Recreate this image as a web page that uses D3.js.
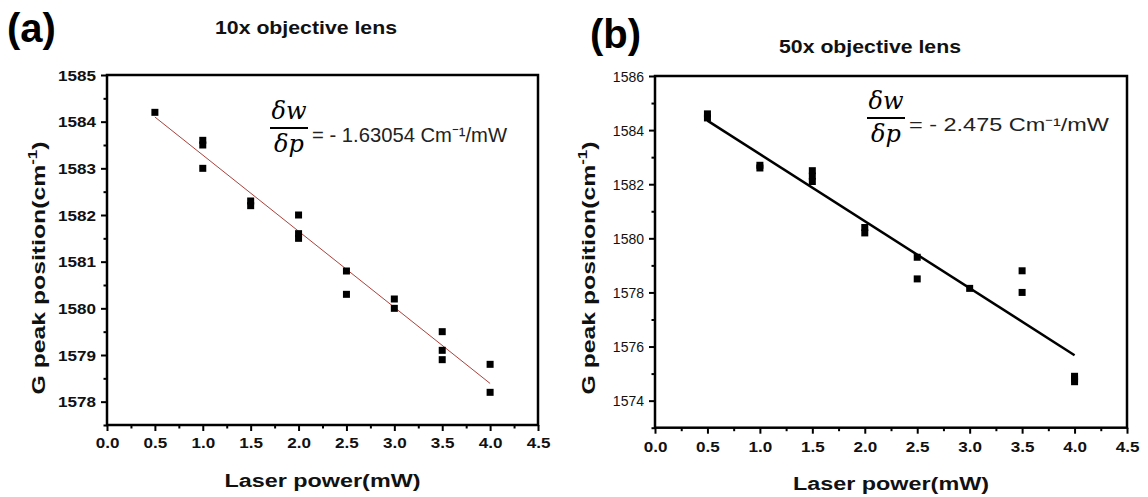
<!DOCTYPE html>
<html>
<head>
<meta charset="utf-8">
<script src="https://cdn.jsdelivr.net/npm/d3@7"></script>
<style>
  body { margin: 0; background: #fff; }
  svg { display: block; font-family: "Liberation Sans", Arial, sans-serif; }
</style>
</head>
<body>
<div class="chart_container"></div>
<script>
// data
// (a) 10x objective lens
const powerA = [0.5, 1.0, 1.0, 1.0, 1.5, 1.5, 2.0, 2.0, 2.0, 2.5, 2.5, 3.0, 3.0, 3.5, 3.5, 3.5, 4.0, 4.0]
const peakA = [1584.2, 1583.6, 1583.5, 1583.0, 1582.3, 1582.2, 1582.0, 1581.6, 1581.5, 1580.8, 1580.3, 1580.2, 1580.0, 1579.5, 1579.1, 1578.9, 1578.8, 1578.2]
const fitPowerA = [0.5, 4.0]
const fitPeakA = [1584.1, 1578.39]
const yTicksA = [1578, 1579, 1580, 1581, 1582, 1583, 1584, 1585]

// (b) 50x objective lens
const powerB = [0.5, 0.5, 1.0, 1.0, 1.5, 1.5, 1.5, 2.0, 2.0, 2.5, 2.5, 3.0, 3.5, 3.5, 4.0, 4.0, 4.0]
const peakB = [1584.6, 1584.45, 1582.7, 1582.6, 1582.5, 1582.3, 1582.1, 1580.4, 1580.2, 1579.3, 1578.5, 1578.15, 1578.8, 1578.0, 1574.9, 1574.8, 1574.7]
const fitPowerB = [0.5, 4.0]
const fitPeakB = [1584.35, 1575.68]
const yTicksB = [1574, 1576, 1578, 1580, 1582, 1584, 1586]

const xTicks = [0, 0.5, 1, 1.5, 2, 2.5, 3, 3.5, 4, 4.5]

const svg = d3.select('.chart_container').append('svg')
    .attr('width', 1148).attr('height', 497)

function drawPanel(p) {
    const g = svg.append('g')
    const xScale = d3.scaleLinear().domain([0, 4.5]).range([p.left, p.right])
    const yScale = d3.scaleLinear().domain(p.yDomain).range([p.bottom, p.top])

    // frame
    g.append('rect')
        .attr('x', p.left).attr('y', p.top)
        .attr('width', p.right - p.left).attr('height', p.bottom - p.top)
        .style('fill', 'none').style('stroke', '#000').style('stroke-width', 2.5)

    // minor ticks
    const xMinor = d3.range(0, 4.51, 0.25).filter(v => !xTicks.some(t => Math.abs(t - v) < 1e-6))
    g.append('g').attr('transform', `translate(0,${p.bottom})`)
        .call(d3.axisBottom(xScale).tickValues(xMinor).tickSize(3.5).tickFormat(''))
        .call(a => a.select('.domain').remove())
        .selectAll('line').style('stroke-width', 2)
    g.append('g').attr('transform', `translate(${p.left},0)`)
        .call(d3.axisLeft(yScale).tickValues(p.yMinor).tickSize(3.5).tickFormat(''))
        .call(a => a.select('.domain').remove())
        .selectAll('line').style('stroke-width', 2)

    // major ticks
    const xAxis = g.append('g').attr('transform', `translate(0,${p.bottom})`)
        .call(d3.axisBottom(xScale).tickValues(xTicks).tickSize(6).tickFormat(d3.format('.1f')))
    xAxis.select('.domain').remove()
    xAxis.selectAll('line').style('stroke-width', 2)
    xAxis.selectAll('text')
        .attr('y', 0).attr('dy', 0)
        .attr('transform', `translate(0,${p.xLabelY}) scale(1.22,1)`)
        .style('font-size', '14px').style('font-weight', 'bold').style('fill', '#111')

    const yAxis = g.append('g').attr('transform', `translate(${p.left},0)`)
        .call(d3.axisLeft(yScale).tickValues(p.yTicks).tickSize(6).tickFormat(d3.format('d')))
    yAxis.select('.domain').remove()
    yAxis.selectAll('line').style('stroke-width', 2)
    yAxis.selectAll('text')
        .attr('x', -11 / p.ySx).attr('dy', '0.36em')
        .attr('transform', `scale(${p.ySx},1)`)
        .style('font-size', p.ySize).style('font-weight', p.yWeight).style('fill', '#111')

    // fit line
    const lineGen = d3.line().x(d => xScale(d[0])).y(d => yScale(d[1]))
    g.append('path')
        .attr('d', lineGen(d3.zip(p.fitX, p.fitY)))
        .style('fill', 'none').style('stroke', p.fitColor).style('stroke-width', p.fitWidth)

    // points
    g.selectAll('.pt').data(d3.zip(p.xs, p.ys)).enter().append('rect')
        .attr('class', 'pt')
        .attr('x', d => xScale(d[0]) - 3.5).attr('y', d => yScale(d[1]) - 3.5)
        .attr('width', 7).attr('height', 7)
        .style('fill', '#000')

    // panel letter and title
    g.append('text').attr('x', p.letterX).attr('y', p.letterY)
        .text(p.letter)
        .style('font-size', '40px').style('font-weight', 'bold')
    g.append('text').attr('x', p.titleX).attr('y', p.titleY)
        .attr('text-anchor', 'middle')
        .attr('textLength', 182).attr('lengthAdjust', 'spacingAndGlyphs')
        .text(p.title)
        .style('font-size', '18.5px').style('font-weight', 'bold').style('fill', '#111')

    // axis titles
    g.append('text').attr('x', (p.left + p.right) / 2).attr('y', p.xTitleY)
        .attr('text-anchor', 'middle')
        .attr('textLength', 196).attr('lengthAdjust', 'spacingAndGlyphs')
        .text('Laser power(mW)')
        .style('font-size', '18px').style('font-weight', 'bold').style('fill', '#111')

    const yt = g.append('text')
        .attr('transform', `translate(${p.yTitleX},268) rotate(-90)`)
        .attr('text-anchor', 'middle')
        .attr('textLength', 253).attr('lengthAdjust', 'spacingAndGlyphs')
        .style('font-size', '19px').style('font-weight', 'bold').style('fill', '#111')
    yt.append('tspan').text('G peak position(cm')
    yt.append('tspan').text('-1').attr('dy', -8).style('font-size', '13px')
    yt.append('tspan').text(')').attr('dy', 8)

    // slope annotation
    const f = g.append('g').attr('transform', `translate(${p.fracX},${p.fracY})`)
    f.append('text').attr('x', 0).attr('y', -9).attr('text-anchor', 'middle')
        .text('δw').style('font-family', '"DejaVu Serif", serif').style('font-style', 'italic')
        .style('font-size', '24px')
    f.append('line').attr('x1', -19).attr('x2', 19).attr('y1', 0).attr('y2', 0)
        .style('stroke', '#000').style('stroke-width', 2)
    f.append('text').attr('x', 0).attr('y', 24).attr('text-anchor', 'middle')
        .text('δp').style('font-family', '"DejaVu Serif", serif').style('font-style', 'italic')
        .style('font-size', '24px')
    f.append('text').attr('x', 23).attr('y', p.eqDy)
        .attr('textLength', p.eqW).attr('lengthAdjust', 'spacingAndGlyphs')
        .style('font-size', p.eqSize).style('fill', '#222')
        .text(p.eqText)
}

drawPanel({
    left: 107, right: 538, top: 75, bottom: 425,
    yDomain: [1577.5, 1585], yTicks: yTicksA,
    yMinor: d3.range(1577.5, 1585, 1), ySx: 1.22, ySize: '14px', yWeight: 'bold',
    xLabelY: 23, xTitleY: 487, yTitleX: 45,
    xs: powerA, ys: peakA, fitX: fitPowerA, fitY: fitPeakA,
    fitColor: '#a8423c', fitWidth: 1,
    letter: '(a)', letterX: 7, letterY: 42,
    title: '10x objective lens', titleX: 306, titleY: 34,
    fracX: 289, fracY: 128, eqDy: 14, eqW: 195, eqSize: '21px',
    eqText: '= - 1.63054 Cm⁻¹/mW'
})

drawPanel({
    left: 655, right: 1127, top: 76, bottom: 427.7,
    yDomain: [1573, 1586], yTicks: yTicksB,
    yMinor: d3.range(1573, 1586, 2), ySx: 1.0, ySize: '14px', yWeight: 'normal',
    xLabelY: 24, xTitleY: 490, yTitleX: 595,
    xs: powerB, ys: peakB, fitX: fitPowerB, fitY: fitPeakB,
    fitColor: '#000', fitWidth: 2.5,
    letter: '(b)', letterX: 590, letterY: 48,
    title: '50x objective lens', titleX: 870, titleY: 53,
    fracX: 886, fracY: 118, eqDy: 13, eqW: 200, eqSize: '18px',
    eqText: '= - 2.475 Cm⁻¹/mW'
})
</script>
</body>
</html>
